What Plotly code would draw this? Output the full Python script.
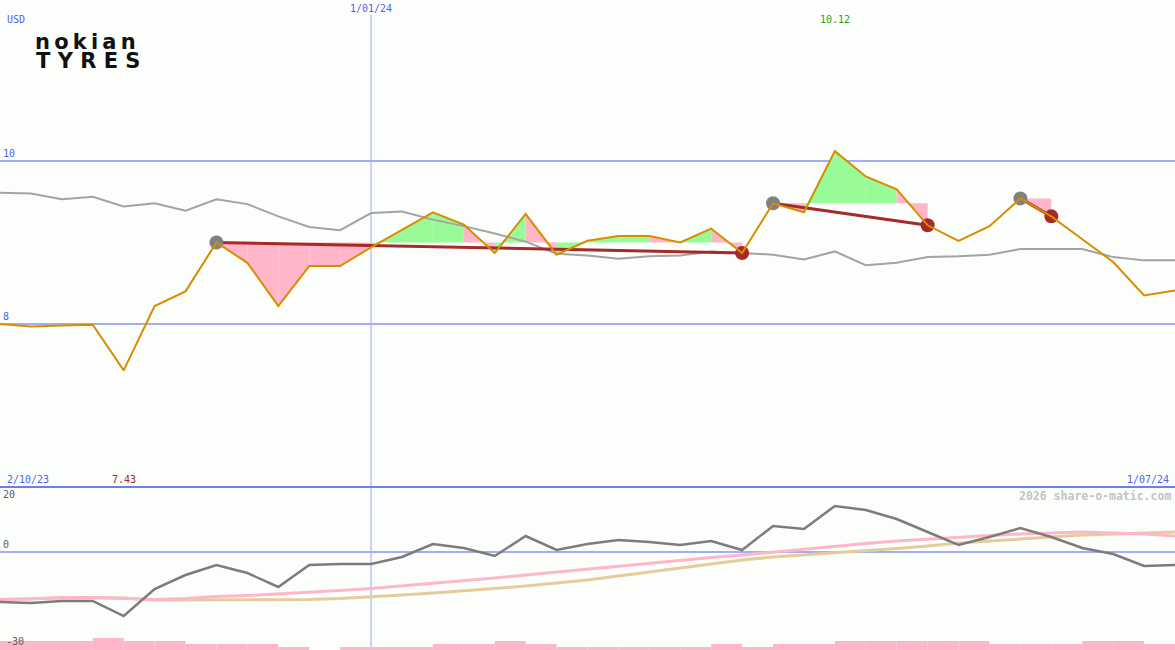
import plotly.graph_objects as go
import pandas as pd

# ---------------- data ----------------
dates = pd.date_range("2023-10-09", periods=39, freq="7D")

price = [8.00, 7.97, 7.98, 7.99, 7.43, 8.22, 8.40, 9.00, 8.75, 8.22,
         8.71, 8.71, 8.94, 9.15, 9.37, 9.22, 8.87, 9.35, 8.85, 9.02,
         9.08, 9.08, 9.00, 9.17, 8.87, 9.48, 9.37, 10.12, 9.81, 9.65,
         9.21, 9.02, 9.20, 9.54, 9.32, 9.04, 8.76, 8.35, 8.41]

bench = [9.61, 9.60, 9.53, 9.56, 9.44, 9.48, 9.39, 9.53, 9.47, 9.32,
         9.19, 9.15, 9.36, 9.38, 9.28, 9.20, 9.11, 9.01, 8.86, 8.84,
         8.80, 8.83, 8.84, 8.89, 8.87, 8.85, 8.79, 8.89, 8.72, 8.75,
         8.82, 8.83, 8.85, 8.92, 8.92, 8.92, 8.82, 8.78, 8.78]

osc = [-20.2, -20.6, -19.8, -19.8, -25.8, -15.0, -9.4, -5.4, -8.6, -14.2,
       -5.4, -5.0, -5.0, -2.2, 3.0, 1.4, -1.8, 6.2, 0.6, 3.0,
       4.6, 3.8, 2.6, 4.2, 0.6, 10.2, 9.0, 18.2, 16.6, 13.0,
       7.8, 2.6, 5.8, 9.4, 5.8, 1.4, -1.0, -5.8, -5.4]

osc_fast = [-19.2, -19.0, -18.4, -18.4, -18.8, -19.2, -18.8, -18.0, -17.6, -17.0,
            -16.4, -15.6, -14.8, -13.8, -12.8, -11.6, -10.6, -9.4, -8.2, -7.0,
            -5.8, -4.6, -3.4, -2.4, -1.4, -0.2, 1.0, 2.2, 3.2, 4.2,
            5.0, 5.8, 6.4, 7.0, 7.4, 7.8, 7.4, 7.0, 6.2]

osc_slow = [-19.2, -18.8, -18.6, -18.4, -18.6, -19.4, -19.4, -19.4, -19.4, -19.4,
            -19.2, -18.8, -18.2, -17.4, -16.6, -15.8, -14.8, -13.8, -12.6, -11.4,
            -9.8, -8.2, -6.6, -5.0, -3.4, -2.2, -1.4, -0.6, 0.2, 1.2,
            2.2, 3.4, 4.2, 5.0, 5.8, 6.6, 7.0, 7.4, 7.8]

volume = [3, 3, 3, 4, 3, 3, 2, 2, 2, 1, 0, 1, 1, 1, 2, 2, 3, 2, 1,
          1, 1, 1, 1, 2, 1, 2, 2, 3, 3, 3, 3, 3, 2, 2, 2, 3, 3, 2]

buy_idx = [7, 25, 33]
sell_idx = [24, 30, 34]
seg_dirs = [[-1, -1, -1, -1, -1, 1, 1, 1, -1, 1, -1, 1, 1, 1, -1, 1, -1],
            [-1, 1, 1, 1, -1],
            [-1]]

y_ticks_main = [8, 10]
y_ticks_low = [0, 20]
x_tick = [pd.Timestamp("2024-01-01")]
x_tick_text = ["1/01/24"]
start_label = "2/10/23"
end_label = "1/07/24"
currency = "USD"
low_floor_label = "-30"
logo_top = "nokian"
logo_bottom = "TYRES"

# ---------------- style ----------------
W, H, TOP = 1175, 650, 15
SPLIT = (H - 487) / (H - TOP)
BG = "#fbfefb"
GRID = "#a2aef4"
VGRID = "#9aa8f6"
SEP = "#6c7ef0"
BLUE = "#4f5ff0"
GREEN = "#98fb98"
PINK = "#ffb6c8"
ORANGE = "#d98c00"
BROWN = "#a52a2a"
MONO = "DejaVu Sans Mono"


def py(p):
    return (H - p) / (H - TOP)


def px(p):
    return p / W


fig = go.Figure()

# signal fills
for b, s, dirs in zip(buy_idx, sell_idx, seg_dirs):
    base = price[b]
    for k, d in enumerate(dirs):
        i = b + k
        fig.add_trace(go.Scatter(
            x=[dates[i], dates[i + 1], dates[i + 1], dates[i]],
            y=[price[i], price[i + 1], base, base],
            fill="toself", fillcolor=GREEN if d > 0 else PINK,
            mode="none", hoverinfo="skip", showlegend=False,
            xaxis="x", yaxis="y"))

# benchmark
fig.add_trace(go.Scatter(x=dates, y=bench, mode="lines",
                         line=dict(color="#a3a3a3", width=2),
                         xaxis="x", yaxis="y", showlegend=False))

# trend lines
for b, s in zip(buy_idx, sell_idx):
    fig.add_trace(go.Scatter(x=[dates[b], dates[s]], y=[price[b], price[s]],
                             mode="lines", line=dict(color=BROWN, width=3),
                             xaxis="x", yaxis="y", showlegend=False))

# signal markers
fig.add_trace(go.Scatter(x=[dates[i] for i in buy_idx], y=[price[i] for i in buy_idx],
                         mode="markers", marker=dict(color="#808080", size=14),
                         xaxis="x", yaxis="y", showlegend=False))
fig.add_trace(go.Scatter(x=[dates[i] for i in sell_idx], y=[price[i] for i in sell_idx],
                         mode="markers", marker=dict(color=BROWN, size=14),
                         xaxis="x", yaxis="y", showlegend=False))

# price
fig.add_trace(go.Scatter(x=dates, y=price, mode="lines",
                         line=dict(color=ORANGE, width=2),
                         xaxis="x", yaxis="y", showlegend=False))

# lower panel: volume bars
mid = [dates[i] + pd.Timedelta(days=3.5) for i in range(len(volume))]
fig.add_trace(go.Bar(x=mid, y=volume, width=7 * 24 * 3600 * 1000,
                     marker=dict(color=PINK, line=dict(width=0)),
                     xaxis="x2", yaxis="y3", showlegend=False))

fig.add_trace(go.Scatter(x=dates, y=osc_slow, mode="lines",
                         line=dict(color="#e5cc9c", width=3),
                         xaxis="x2", yaxis="y2", showlegend=False))
fig.add_trace(go.Scatter(x=dates, y=osc_fast, mode="lines",
                         line=dict(color="#ffb6c8", width=3),
                         xaxis="x2", yaxis="y2", showlegend=False))
fig.add_trace(go.Scatter(x=dates, y=osc, mode="lines",
                         line=dict(color="#7c7c7c", width=2.5),
                         xaxis="x2", yaxis="y2", showlegend=False))

imax = max(range(len(price)), key=lambda i: price[i])
imin = min(range(len(price)), key=lambda i: price[i])

annotations = [
    dict(text=currency, x=px(5), y=py(20), xanchor="left", yanchor="middle",
         font=dict(family=MONO, size=10, color=BLUE)),
    dict(text=f"{price[imax]:.2f}", x=dates[imax], xref="x", y=py(20),
         xanchor="center", yanchor="middle",
         font=dict(family=MONO, size=10, color="#1f9f1f")),
    dict(text=f"{price[imin]:.2f}", x=dates[imin], xref="x", y=py(479),
         xanchor="center", yanchor="middle",
         font=dict(family=MONO, size=10, color=BROWN)),
    dict(text=start_label, x=px(5), y=py(479), xanchor="left", yanchor="middle",
         font=dict(family=MONO, size=10, color=BLUE)),
    dict(text=end_label, x=px(1171), y=py(479), xanchor="right", yanchor="middle",
         font=dict(family=MONO, size=10, color=BLUE)),
    dict(text="2026 share-o-matic.com", x=px(1173), y=py(496), xanchor="right",
         yanchor="middle",
         font=dict(family=MONO, size=11.5, color="#c4c4c4", weight="bold")),
    dict(text=low_floor_label, x=px(4), y=py(641), xanchor="left", yanchor="middle",
         font=dict(family=MONO, size=10, color="#606060")),
    dict(text="\u2009".join(logo_top), x=px(34), y=py(42), xanchor="left",
         yanchor="middle", height=18, borderpad=0,
         font=dict(family="DejaVu Sans", size=21, color="#111111", weight="bold")),
    dict(text=" ".join(logo_bottom), x=px(35), y=py(61), xanchor="left",
         yanchor="middle", height=18, borderpad=0,
         font=dict(family="DejaVu Sans", size=21, color="#111111", weight="bold")),
]
for a in annotations:
    a.setdefault("xref", "paper")
    a["yref"] = "paper"
    a["showarrow"] = False

shapes = [dict(type="line", xref="paper", yref="paper", x0=0, x1=1,
               y0=SPLIT, y1=SPLIT, line=dict(color=SEP, width=2), layer="above")]
for t in x_tick:
    shapes.append(dict(type="line", xref="x", yref="paper", x0=t, x1=t,
                       y0=0, y1=1, line=dict(color=VGRID, width=1), layer="below"))

fig.update_layout(
    width=W, height=H, template="none",
    margin=dict(l=0, r=0, t=TOP, b=0, pad=0),
    paper_bgcolor=BG, plot_bgcolor=BG, showlegend=False,
    xaxis=dict(domain=[0, 1], anchor="y", side="top",
               range=[dates[0], dates[-1]], tickvals=x_tick, ticktext=x_tick_text,
               showgrid=False, ticks="", showline=False, zeroline=False,
               tickfont=dict(family=MONO, size=10, color=BLUE)),
    xaxis2=dict(domain=[0, 1], anchor="y2", matches="x", showticklabels=False,
                showgrid=False, ticks="", showline=False, zeroline=False),
    yaxis=dict(domain=[SPLIT, 1], anchor="x", range=[6.0, 11.79],
               tickvals=y_ticks_main, ticklabelposition="inside top",
               showgrid=True, gridcolor=GRID, gridwidth=2, zeroline=False,
               ticks="", showline=False,
               tickfont=dict(family=MONO, size=10, color=BLUE)),
    yaxis2=dict(domain=[0, SPLIT], anchor="x2", range=[-39.4, 25.8],
                tickvals=y_ticks_low, ticklabelposition="inside top",
                showgrid=False, zeroline=True, zerolinecolor=GRID, zerolinewidth=2,
                ticks="", showline=False,
                tickfont=dict(family=MONO, size=10, color="#606060")),
    yaxis3=dict(overlaying="y2", anchor="x2", range=[0, 54.3], visible=False),
    annotations=annotations,
    shapes=shapes,
)

fig.write_html("out.html",
               config={"displayModeBar": False},
               post_script="document.body.style.margin='0px';"
                           "document.body.style.overflow='hidden';")
